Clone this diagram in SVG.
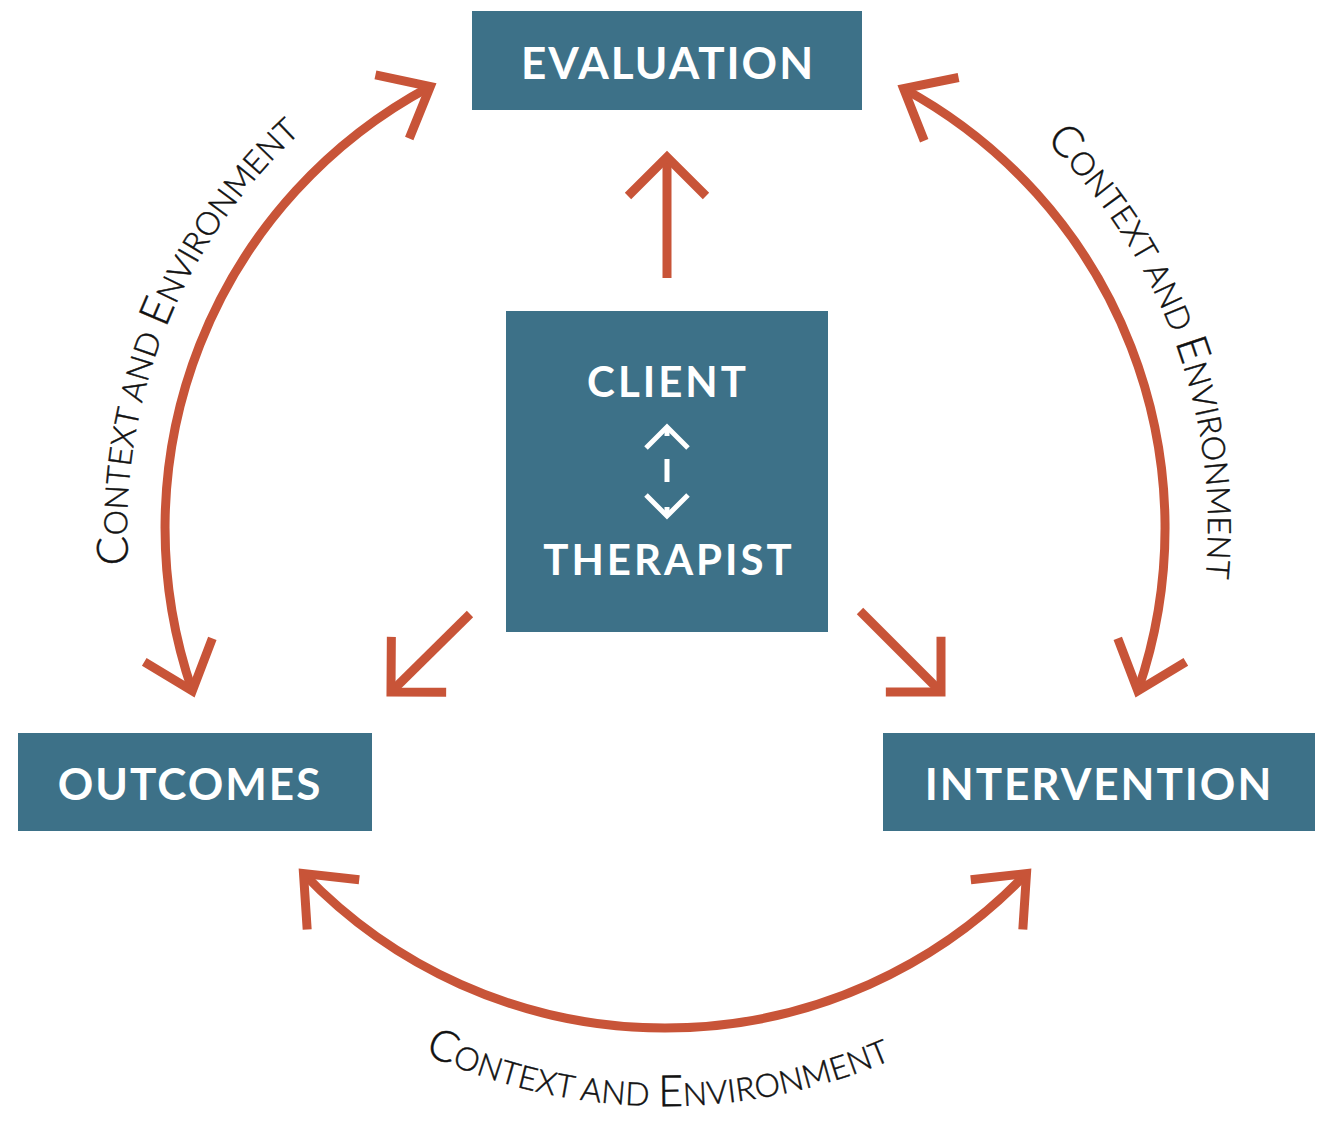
<svg xmlns="http://www.w3.org/2000/svg" width="1334" height="1124" viewBox="0 0 1334 1124">
  <style>
    .box { fill: #3d7188; }
    .lbl { font-family: Lato, "Open Sans", "Liberation Sans", sans-serif; font-weight: 700; fill: #ffffff; text-anchor: middle; letter-spacing: 2px; }
    .arc { fill: none; stroke: #c85438; stroke-width: 9; }
    .str { fill: none; stroke: #c85438; stroke-width: 9; }
    .ctx { font-family: Lato, "Open Sans", "Liberation Sans", sans-serif; font-weight: 300; fill: #111111; stroke: #111111; stroke-width: 0.5px; letter-spacing: 0.2px; }
    .big { font-size: 43px; }
    .sm { font-size: 32px; }
    .wh { fill: none; stroke: #ffffff; stroke-width: 5; }
  </style>
  <defs>
    <marker id="ahArc" markerUnits="userSpaceOnUse" orient="auto-start-reverse" viewBox="-70 -70 140 140" markerWidth="140" markerHeight="140" refX="0" refY="0" overflow="visible">
      <path d="M-43,-36 L0,0 L-43,36" fill="none" stroke="#c85438" stroke-width="9" stroke-linejoin="miter"/>
    </marker>
    <marker id="ahStr" markerUnits="userSpaceOnUse" orient="auto" viewBox="-70 -70 140 140" markerWidth="140" markerHeight="140" refX="0" refY="0" overflow="visible">
      <path d="M-39,-39 L0,0 L-39,39" fill="none" stroke="#c85438" stroke-width="9" stroke-linejoin="miter"/>
    </marker>
    <path id="tpLeft" d="M200.2,798.5 A538,538 0 0 1 513.3,11.8"/>
    <path id="tpRight" d="M831.9,11.3 A543,543 0 0 1 1126,814.9"/>
    <path id="tpBottom" d="M204.9,877.9 A578,578 0 0 0 1115.8,889.8"/>
  </defs>

  <rect width="1334" height="1124" fill="#ffffff"/>

  <g id="connectors">
    <path class="arc" d="M192.3,690.8 A500,500 0 0 1 430.3,86.5" marker-start="url(#ahArc)" marker-end="url(#ahArc)"/>
    <path class="arc" d="M903.6,88.6 A500,500 0 0 1 1137.8,690.8" marker-start="url(#ahArc)" marker-end="url(#ahArc)"/>
    <path class="arc" d="M303.5,873.5 A500,500 0 0 0 1026.5,873.5" marker-start="url(#ahArc)" marker-end="url(#ahArc)"/>
    <line class="str" x1="667" y1="278" x2="667" y2="157" marker-end="url(#ahStr)"/>
    <line class="str" x1="470" y1="614" x2="391" y2="692" marker-end="url(#ahStr)"/>
    <line class="str" x1="860" y1="611" x2="941" y2="692" marker-end="url(#ahStr)"/>
  </g>

  <g id="context-labels">
    <text class="ctx"><textPath href="#tpLeft" startOffset="50%" text-anchor="middle"><tspan class="big">C</tspan><tspan class="sm">ONTEXT AND </tspan><tspan class="big">E</tspan><tspan class="sm">NVIRONMENT</tspan></textPath></text>
    <text class="ctx"><textPath href="#tpRight" startOffset="50%" text-anchor="middle"><tspan class="big">C</tspan><tspan class="sm">ONTEXT AND </tspan><tspan class="big">E</tspan><tspan class="sm">NVIRONMENT</tspan></textPath></text>
    <text class="ctx"><textPath href="#tpBottom" startOffset="50%" text-anchor="middle"><tspan class="big">C</tspan><tspan class="sm">ONTEXT AND </tspan><tspan class="big">E</tspan><tspan class="sm">NVIRONMENT</tspan></textPath></text>
  </g>

  <g id="evaluation">
    <rect class="box" x="472" y="11" width="390" height="99"/>
    <text class="lbl" x="668" y="79" font-size="44">EVALUATION</text>
  </g>

  <g id="client-therapist">
    <rect class="box" x="506" y="311" width="322" height="321"/>
    <text class="lbl" x="668" y="397" font-size="42" style="letter-spacing:3px">CLIENT</text>
    <path class="wh" d="M646,448 L667,427 L688,448"/>
    <line class="wh" x1="667" y1="428" x2="667" y2="515" stroke-dasharray="8 23 23 25 9"/>
    <path class="wh" d="M646,495 L667,516 L688,495"/>
    <text class="lbl" x="669" y="575" font-size="42" style="letter-spacing:3px">THERAPIST</text>
  </g>

  <g id="outcomes">
    <rect class="box" x="18" y="733" width="354" height="98"/>
    <text class="lbl" x="190" y="800" font-size="44">OUTCOMES</text>
  </g>

  <g id="intervention">
    <rect class="box" x="883" y="733" width="432" height="98"/>
    <text class="lbl" x="1099" y="800" font-size="44">INTERVENTION</text>
  </g>
</svg>
